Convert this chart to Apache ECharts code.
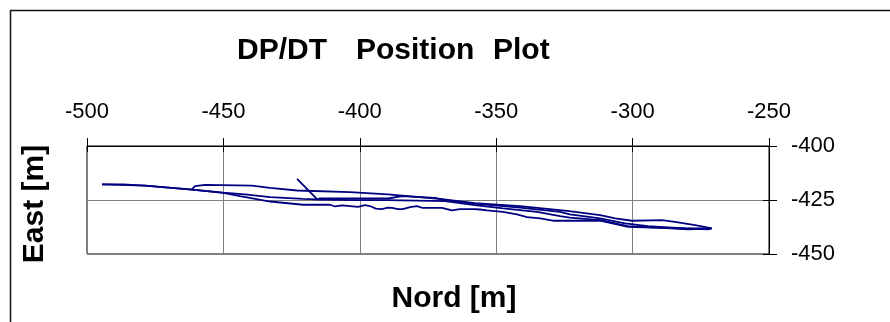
<!DOCTYPE html>
<html>
<head>
<meta charset="utf-8">
<script src="https://cdn.jsdelivr.net/npm/echarts@6/dist/echarts.min.js"></script>
<style>
  html, body { margin: 0; padding: 0; background: #fff; }
  #chart { width: 890px; height: 322px; }
</style>
</head>
<body>
<div id="chart"></div>
<script>
// Vessel position tracks: [Nord, East] in metres
const trackLower = [
  [-494.5, -417.8], [-486.8, -417.8], [-478.7, -418.3], [-461.5, -420.2],
  [-450.1, -421.7], [-443.9, -423.2], [-432.9, -425.7], [-420.8, -427.2],
  [-410.9, -427.2], [-409.1, -428.0], [-406.5, -427.5], [-400.7, -428.2],
  [-398.1, -427.4], [-396.3, -427.8], [-394.1, -429.0], [-391.9, -429.2],
  [-389.7, -428.5], [-388.2, -428.6], [-386.0, -429.2], [-384.2, -429.2],
  [-381.6, -428.3], [-379.0, -427.8], [-377.2, -428.6], [-369.9, -428.6],
  [-366.2, -429.8], [-363.3, -429.2], [-357.8, -429.2], [-355.9, -429.4],
  [-353.4, -429.8], [-347.5, -430.5], [-342.4, -431.7], [-338.7, -432.9],
  [-333.9, -433.5], [-329.2, -434.6], [-311.9, -434.6], [-301.7, -437.4],
  [-289.2, -437.9], [-279.7, -438.6], [-271.6, -438.2]
];

const trackMain = [
  [-494.5, -417.8], [-478.7, -418.3], [-461.5, -420.2], [-450.1, -421.6],
  [-442.1, -422.4], [-432.9, -423.7], [-420.8, -424.5], [-414.6, -424.8],
  [-401.0, -425.1], [-389.7, -425.1], [-368.8, -425.5], [-357.8, -427.4],
  [-347.5, -428.9], [-335.0, -430.5], [-326.6, -432.5], [-323.0, -433.2],
  [-311.9, -434.3], [-301.7, -437.1], [-289.2, -437.9], [-279.7, -438.2],
  [-271.6, -438.1]
];

const trackUpper = [
  [-461.5, -420.0], [-460.4, -418.6], [-456.7, -418.0], [-439.5, -418.3],
  [-432.9, -419.4], [-423.0, -420.6], [-403.6, -421.4], [-389.7, -422.4],
  [-369.9, -424.6], [-357.8, -426.5], [-341.3, -427.8], [-324.0, -430.0],
  [-311.9, -432.0], [-306.4, -433.5], [-300.2, -434.6], [-289.2, -434.3],
  [-284.5, -435.1], [-277.1, -436.6], [-270.9, -438.1]
];

const trackSpike = [
  [-423.0, -415.2], [-416.4, -423.7], [-415.7, -424.7], [-414.6, -424.3],
  [-401.0, -424.3], [-389.7, -424.3], [-384.5, -423.2], [-372.4, -424.0],
  [-368.8, -425.1], [-357.8, -426.7], [-341.3, -428.5], [-326.6, -430.5],
  [-323.0, -431.7], [-311.9, -433.5], [-302.8, -435.8], [-294.4, -437.1],
  [-280.8, -438.1], [-272.4, -438.6], [-270.9, -438.1]
];

// Axis ranges and tick steps
const nordRange = [-500, -250];
const nordStep = 50;
const eastRange = [-450, -400];
const eastStep = 25;

// Title words, laid out with wide gaps between them
const titleWords = ['DP/DT', 'Position', 'Plot'];
const titleWordX = [237, 356, 493];

const FONT = "'Liberation Sans', Arial, Helvetica, sans-serif";
const TRACK_COLOR = '#000080';

const chart = echarts.init(document.getElementById('chart'), null, { renderer: 'canvas' });

function track(data) {
  return {
    type: 'line',
    data: data,
    xAxisIndex: 0,
    yAxisIndex: 0,
    showSymbol: false,
    symbol: 'none',
    animation: false,
    silent: true,
    lineStyle: { color: TRACK_COLOR, width: 1.8 },
    z: 5
  };
}

const tickInside = {
  show: true, inside: true, length: 6,
  lineStyle: { color: '#000', width: 1 }
};

const boldText = (text, x, y, extra) => Object.assign({
  type: 'text', silent: true, x: x, y: y,
  style: {
    text: text, fontFamily: FONT, fontSize: 30, fontWeight: 'bold',
    fill: '#000', align: 'center', verticalAlign: 'middle'
  }
}, extra || {});

const titleGraphics = titleWords.map((w, i) => ({
  type: 'text', silent: true, x: titleWordX[i], y: 51,
  style: {
    text: w, fontFamily: FONT, fontSize: 30, fontWeight: 'bold',
    fill: '#000', align: 'left', verticalAlign: 'middle'
  }
}));

chart.setOption({
  animation: false,
  backgroundColor: '#fff',
  grid: {
    left: 87, top: 146, width: 682, height: 108,
    show: true, borderColor: '#000', borderWidth: 1, backgroundColor: 'transparent'
  },
  xAxis: [
    {
      type: 'value', position: 'top',
      min: nordRange[0], max: nordRange[1], interval: nordStep,
      axisLine: { show: true, onZero: false, lineStyle: { color: '#000', width: 1 } },
      axisTick: { show: true, inside: false, length: 8, lineStyle: { color: '#000', width: 1 } },
      axisLabel: { margin: 23, color: '#000', fontSize: 22, fontFamily: FONT },
      splitLine: { show: true, lineStyle: { color: '#7f7f7f', width: 1 } }
    },
    {
      type: 'value', position: 'top',
      min: nordRange[0], max: nordRange[1], interval: nordStep,
      axisLine: { show: false, onZero: false },
      axisTick: tickInside,
      axisLabel: { show: false },
      splitLine: { show: false }
    }
  ],
  yAxis: [
    {
      type: 'value', position: 'right',
      min: eastRange[0], max: eastRange[1], interval: eastStep,
      axisLine: { show: true, onZero: false, lineStyle: { color: '#000', width: 1 } },
      axisTick: { show: true, inside: false, length: 8, lineStyle: { color: '#000', width: 1 } },
      axisLabel: { margin: 22, color: '#000', fontSize: 22, fontFamily: FONT },
      splitLine: { show: true, lineStyle: { color: '#7f7f7f', width: 1 } }
    },
    {
      type: 'value', position: 'right',
      min: eastRange[0], max: eastRange[1], interval: eastStep,
      axisLine: { show: false, onZero: false },
      axisTick: tickInside,
      axisLabel: { show: false },
      splitLine: { show: false }
    }
  ],
  graphic: [
    {
      type: 'rect', silent: true, z: 0,
      shape: { x: 10.5, y: 10.5, width: 900, height: 400 },
      style: { fill: 'none', stroke: '#111', lineWidth: 1.5 }
    },
    ...titleGraphics,
    boldText('East [m]', 35, 204, { rotation: Math.PI / 2 }),
    boldText('Nord [m]', 454, 299)
  ],
  series: [track(trackLower), track(trackMain), track(trackUpper), track(trackSpike)]
});
</script>
</body>
</html>
